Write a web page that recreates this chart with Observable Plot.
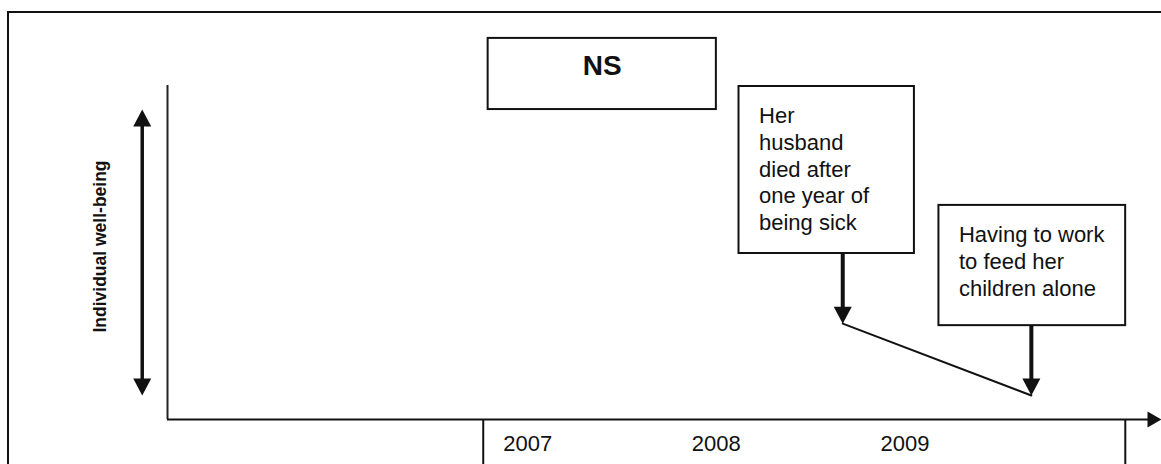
<!DOCTYPE html>
<html>
<head>
<meta charset="utf-8">
<script src="https://cdn.jsdelivr.net/npm/d3@7"></script>
<script src="https://cdn.jsdelivr.net/npm/@observablehq/plot@0.6"></script>
<style>
  html, body { margin: 0; padding: 0; background: white; }
  #wrap { position: relative; width: 1161px; height: 464px; overflow: hidden; }
  #border { position: absolute; left: 7px; top: 11px; right: -10px; bottom: -10px;
            border-left: 2px solid #111; border-top: 2px solid #111; pointer-events: none; }
</style>
</head>
<body>
<div id="wrap"><div id="border"></div></div>
<script>
// ---- data ----
const years = [2007, 2008, 2009];
const xDomain = [2005.22, 2010.49];
const yDomain = [0, 10];
const yLabel = "Individual well-being";

// events (year, well-being level) and their annotations
const eventYears = [2008.8, 2009.8];
const eventWellbeing = [2.87, 0.72];
const eventLabels = ["Her\nhusband\ndied after\none year of\nbeing sick", "Having to work\nto feed her\nchildren alone"];
const eventBoxX1 = [2008.25, 2009.31];
const eventBoxX2 = [2009.18, 2010.3];
const eventBoxTop = [9.97, 6.41];
const eventBoxBottom = [4.97, 2.81];

// title box "NS"
const nsLabel = "NS";
const nsBoxX = [2006.92, 2008.13];
const nsBoxY = [9.28, 11.41];

// well-being range arrow
const rangeX = 2005.086;
const rangeY = [0.72, 9.28];

// timeline table edges
const tableEdges = [2006.894, 2010.298];
const tableBottom = -1.5;

// ---- derived tables ----
const events = eventYears.map((x, i) => ({
  x, y: eventWellbeing[i], label: eventLabels[i],
  x1: eventBoxX1[i], x2: eventBoxX2[i], top: eventBoxTop[i], bottom: eventBoxBottom[i]
}));
const nsBox = [{x1: nsBoxX[0], x2: nsBoxX[1], y1: nsBoxY[0], y2: nsBoxY[1], label: nsLabel}];

// custom filled arrowheads, tip at the origin
const headDown = {draw(c) { c.moveTo(0, 0); c.lineTo(-9, -17); c.lineTo(9, -17); c.closePath(); }};
const headUp = {draw(c) { c.moveTo(0, 0); c.lineTo(-9, 17); c.lineTo(9, 17); c.closePath(); }};
const headRight = {draw(c) { c.moveTo(0, 0); c.lineTo(-14, -8); c.lineTo(-14, 8); c.closePath(); }};

const font = "Liberation Sans, Arial, Helvetica, sans-serif";

const chart = Plot.plot({
  width: 1161,
  height: 464,
  marginLeft: 167,
  marginRight: 0,
  marginTop: 85,
  marginBottom: 45,
  style: {fontFamily: font, fontSize: "22px", background: "transparent", overflow: "visible", color: "#111"},
  x: {domain: xDomain, label: null},
  y: {domain: yDomain, axis: null, label: null},
  marks: [
    // timeline table edges
    Plot.ruleX(tableEdges, {x: d => d, y1: 0, y2: tableBottom, stroke: "#111", strokeWidth: 2}),
    // axes
    Plot.ruleX([xDomain[0]], {x: d => d, y1: yDomain[1], y2: yDomain[0], stroke: "#222", strokeWidth: 2}),
    Plot.ruleY([yDomain[0]], {y: d => d, x1: xDomain[0], x2: xDomain[1], stroke: "#111", strokeWidth: 2, insetRight: 8}),
    Plot.dot([xDomain[1]], {x: d => d, y: yDomain[0], symbol: headRight, r: 5, fill: "#111", stroke: "none"}),
    Plot.axisX({ticks: years, tickSize: 0, tickPadding: 16, textAnchor: "start", fontSize: 22,
                tickFormat: d => String(d), label: null, fill: "#111"}),
    // y label
    Plot.text([yLabel], {text: d => d, frameAnchor: "left", rotate: -90, dx: -67, dy: -6,
                         fontWeight: "bold", fontSize: 17.5, textAnchor: "middle", lineAnchor: "middle", fill: "#111"}),
    // well-being range double arrow
    Plot.ruleX([rangeX], {x: d => d, y1: rangeY[1], y2: rangeY[0], stroke: "#111", strokeWidth: 3.5, insetTop: 12, insetBottom: 12}),
    Plot.dot([rangeX], {x: d => d, y: rangeY[1], symbol: headUp, r: 5, fill: "#111", stroke: "none"}),
    Plot.dot([rangeX], {x: d => d, y: rangeY[0], symbol: headDown, r: 5, fill: "#111", stroke: "none"}),
    // NS box
    Plot.rect(nsBox, {x1: "x1", x2: "x2", y1: "y1", y2: "y2", fill: "white", stroke: "#111", strokeWidth: 2}),
    Plot.text(nsBox, {x: d => (d.x1 + d.x2) / 2, y: "y2", text: "label", lineAnchor: "top", dy: 17,
                      fontWeight: "bold", fontSize: 28, textAnchor: "middle", fill: "#111"}),
    // event boxes
    Plot.rect(events, {x1: "x1", x2: "x2", y1: "bottom", y2: "top", fill: "white", stroke: "#111", strokeWidth: 2}),
    Plot.text(events, {x: "x1", y: "top", text: "label", lineAnchor: "top", textAnchor: "start",
                       dx: 20, dy: 18, fontSize: 22, lineHeight: 1.21, fill: "#111"}),
    // well-being trajectory
    Plot.line(events, {x: "x", y: "y", stroke: "#111", strokeWidth: 2}),
    // arrows from boxes to events
    Plot.ruleX(events, {x: "x", y1: "bottom", y2: "y", stroke: "#111", strokeWidth: 4, insetBottom: 12}),
    Plot.dot(events, {x: "x", y: "y", symbol: headDown, r: 5, fill: "#111", stroke: "none"})
  ]
});
document.getElementById("wrap").prepend(chart);
</script>
</body>
</html>
